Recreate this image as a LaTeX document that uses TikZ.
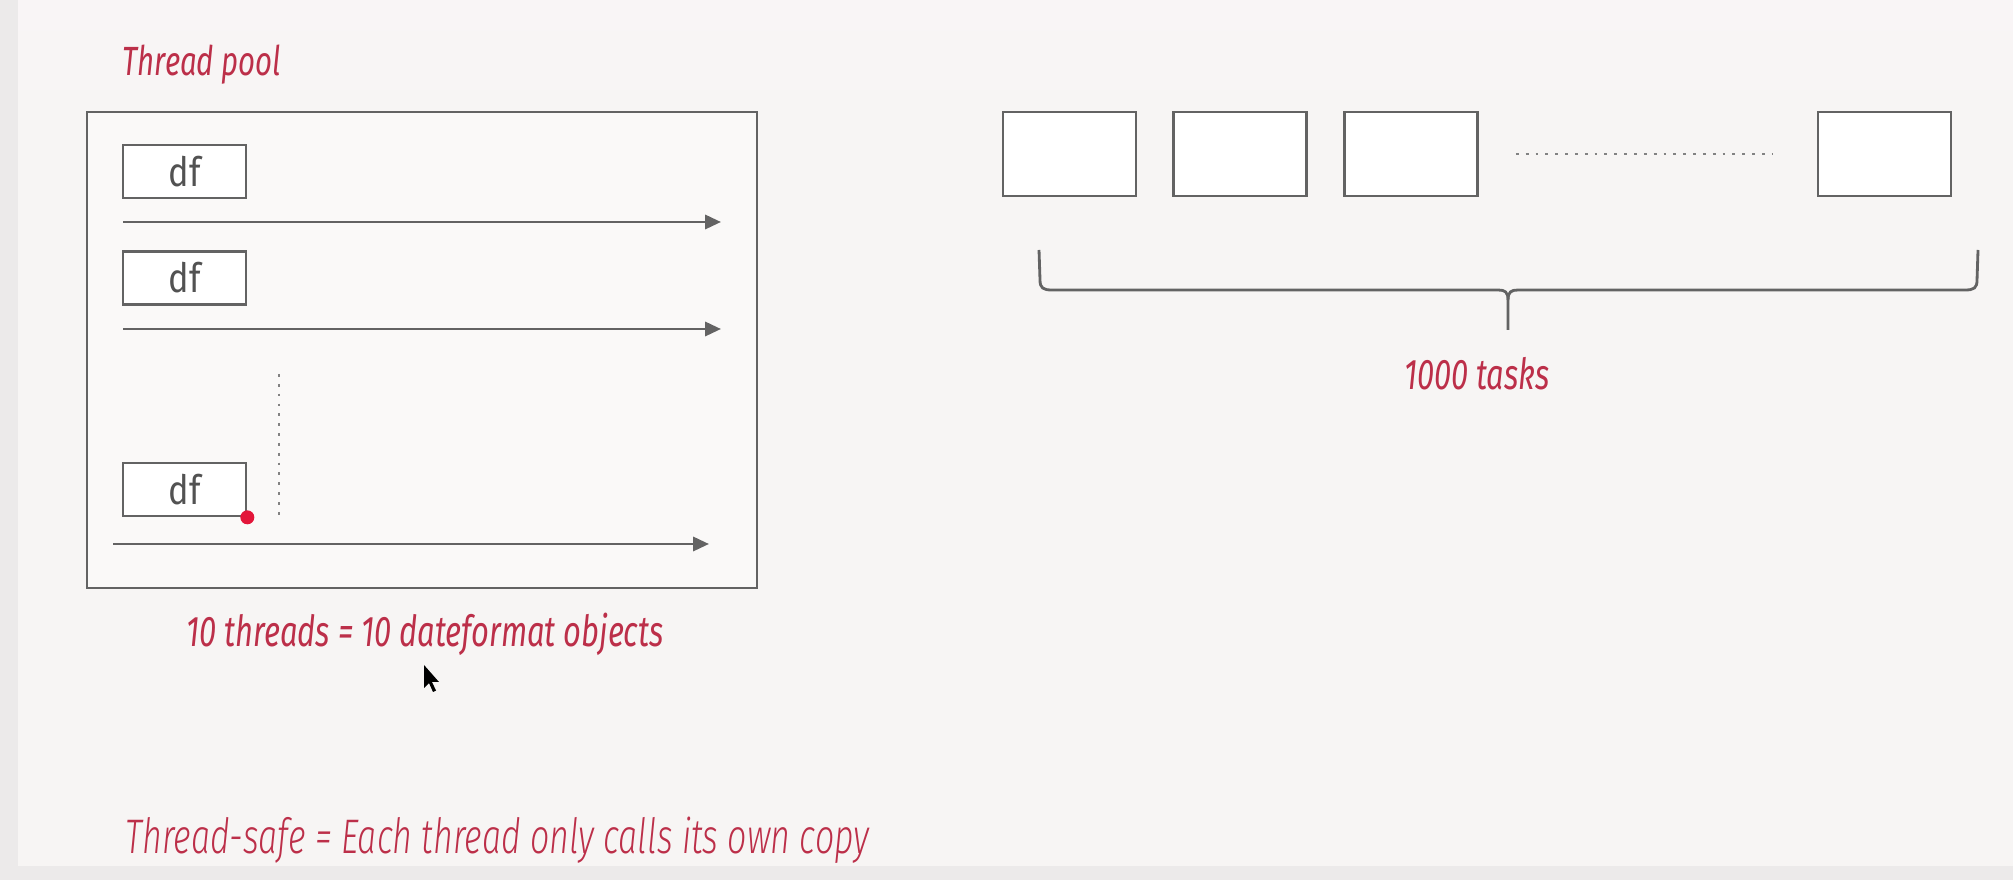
\documentclass[tikz,border=0pt]{standalone}
\usepackage{fontspec}
\setmainfont{Fira Sans}
\newfontfamily\condit[FakeStretch=0.72]{Fira Sans Italic}
\newfontfamily\handit[FakeStretch=0.70]{Fira Sans Light Italic}
\newfontfamily\dffont[FakeStretch=0.85]{Fira Sans}
\usetikzlibrary{arrows.meta,calc}
\definecolor{bg}{HTML}{F7F5F4}
\definecolor{bgtop}{HTML}{F9F5F6}
\definecolor{bgedge}{HTML}{ECEAEA}
\definecolor{redtxt}{HTML}{BC2F49}
\definecolor{linegray}{HTML}{636363}
\definecolor{dotred}{HTML}{E3163A}
\tikzset{
  boxline/.style={draw=linegray, line width=0.75pt, fill=white, inner sep=0pt},
  dfbox/.style={boxline, minimum width=123\ux, minimum height=53\ux, font=\dffont\fontsize{11.5}{13}\selectfont, text=black!68},
  taskbox/.style={boxline, minimum width=133\ux, minimum height=84\ux},
  poolbox/.style={draw=linegray, line width=0.75pt, fill=bg!60!white, inner sep=0pt, minimum width=670\ux, minimum height=476\ux},
  thread/.style={draw=linegray, line width=0.8pt, -{Triangle[length=4.5pt,width=4pt]}},
  dotline/.style={draw=linegray!80, line width=0.8pt, dash pattern=on 0.8pt off 2pt},
  redlabel/.style={text=redtxt, font=\condit\fontsize{12.2}{14}\selectfont, inner sep=0pt},
  handlabel/.style={text=redtxt, font=\handit\fontsize{13.8}{16}\selectfont, inner sep=0pt, anchor=base west},
  bracepath/.style={draw=linegray, line width=0.8pt},
}
\newlength{\ux}
\setlength{\ux}{0.01cm}
\begin{document}
\begin{tikzpicture}[x=0.01cm,y=-0.01cm]
% background
\fill[bgedge] (0,0) rectangle (2013,880);
\fill[bg] (18,0) rectangle (2013,866);
\shade[top color=bgtop, bottom color=bg] (18,0) rectangle (2013,120);
\useasboundingbox (0,0) rectangle (2013,880);

% thread pool
\node[redlabel, anchor=base west, font=\condit\fontsize{11.6}{14}\selectfont] (title) at (122,76) {Thread pool};
\node[poolbox] (pool) at (422,350) {};
\node[dfbox] (df1) at (184.5,171.5) {df};
\node[dfbox] (df2) at (184.5,278) {df};
\node[dfbox] (df3) at (184.5,489.5) {df};

\coordinate (a1s) at (123,222); \coordinate (a1e) at (721,222);
\coordinate (a2s) at (123,329); \coordinate (a2e) at (721,329);
\coordinate (a3s) at (113,544); \coordinate (a3e) at (709,544);
\draw[thread] (a1s) -- (a1e);
\draw[thread] (a2s) -- (a2e);
\draw[thread] (a3s) -- (a3e);

\coordinate (vd1) at (279,374); \coordinate (vd2) at (279,516);
\draw[dotline] (vd1) -- (vd2);

\fill[dotred] (df3.south east) circle (7);

\node[redlabel, anchor=base] (threads) at (425,647) {10 threads = 10 dateformat objects};

% cursor
\fill[black] (424,665) -- (424,688) -- (429,683) -- (433,692) -- (436,690.5) -- (432,682) -- (439,682) -- cycle;

% tasks
\node[taskbox] (t1) at (1069.5,154) {};
\node[taskbox] (t2) at (1240,154) {};
\node[taskbox] (t3) at (1411,154) {};
\node[taskbox] (t4) at (1884.5,154) {};
\draw[dotline] ($(t3.east)+(37,0)$) -- ($(t4.west)+(-44,0)$);

% brace
\coordinate (bl) at (1039,250);
\coordinate (br) at (1978,250);
\coordinate (btip) at (1508,330);
\draw[bracepath] (bl) -- (1040,280) .. controls (1040,288) and (1043,290) .. (1052,290)
  -- (1498,290) .. controls (1505,290) and (1508,292) .. (1508,300) -- (btip);
\draw[bracepath] (br) -- (1977,280) .. controls (1977,288) and (1974,290) .. (1965,290)
  -- (1518,290) .. controls (1511,290) and (1508,292) .. (1508,300);

\node[redlabel, anchor=base] (tasks) at (1477,390) {1000 tasks};

% bottom statement
\node[handlabel] (safe) at (125,853) {Thread-safe = Each thread only calls its own copy};
\end{tikzpicture}
\end{document}
